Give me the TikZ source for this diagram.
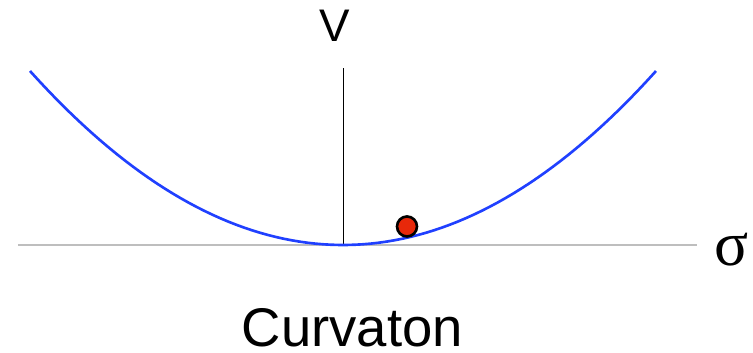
\documentclass[tikz,border=0pt]{standalone}
\usepackage{fontspec}
\setmainfont{Liberation Serif}
\setsansfont{Liberation Sans}
\usepackage{tikz}
\usetikzlibrary{positioning, calc}
\definecolor{curveblue}{RGB}{32, 64, 255}
\definecolor{axisgray}{RGB}{190, 190, 190}
\definecolor{ballred}{RGB}{232, 40, 10}
\tikzset{
    axisline/.style={line width=0.35pt, color=axisgray},
    vaxis/.style={line width=0.25pt, color=black},
    potential/.style={line width=0.75pt, color=curveblue},
    ball/.style={circle, draw=black, line width=0.75pt, fill=ballred, minimum size=0.2cm, inner sep=0pt},
    axis_text/.style={font=\sffamily\fontsize{13}{15}\selectfont},
    title_text/.style={font=\sffamily\fontsize{15.5}{18}\selectfont}
}
\begin{document}
\begin{tikzpicture}
    \useasboundingbox (0,0) rectangle (7.53,3.53);

    % Axes
    \coordinate (origin) at (3.43,1.08);
    \coordinate (hleft) at (0.18,1.08);
    \coordinate (hright) at (6.97,1.08);
    \coordinate (vtop) at (3.43,2.85);
    \draw [axisline] (hleft) -- (hright);
    \draw [vaxis] (origin) -- (vtop);

    % Potential
    \draw [potential, domain=-3.13:3.13, samples=80, shift={(origin)}] plot (\x, {0.1776*\x*\x});

    % Field
    \node (field) [ball] at (4.07,1.265) {};

    % LABELS
    \node (vlabel) [axis_text] at (3.35,3.27) {V};
    \node (sigmalabel) [font=\fontsize{18}{20}\selectfont] at (7.315,1.03) {σ};
    \node (title) [title_text] at (3.525,0.25) {Curvaton};

\end{tikzpicture}
\end{document}
